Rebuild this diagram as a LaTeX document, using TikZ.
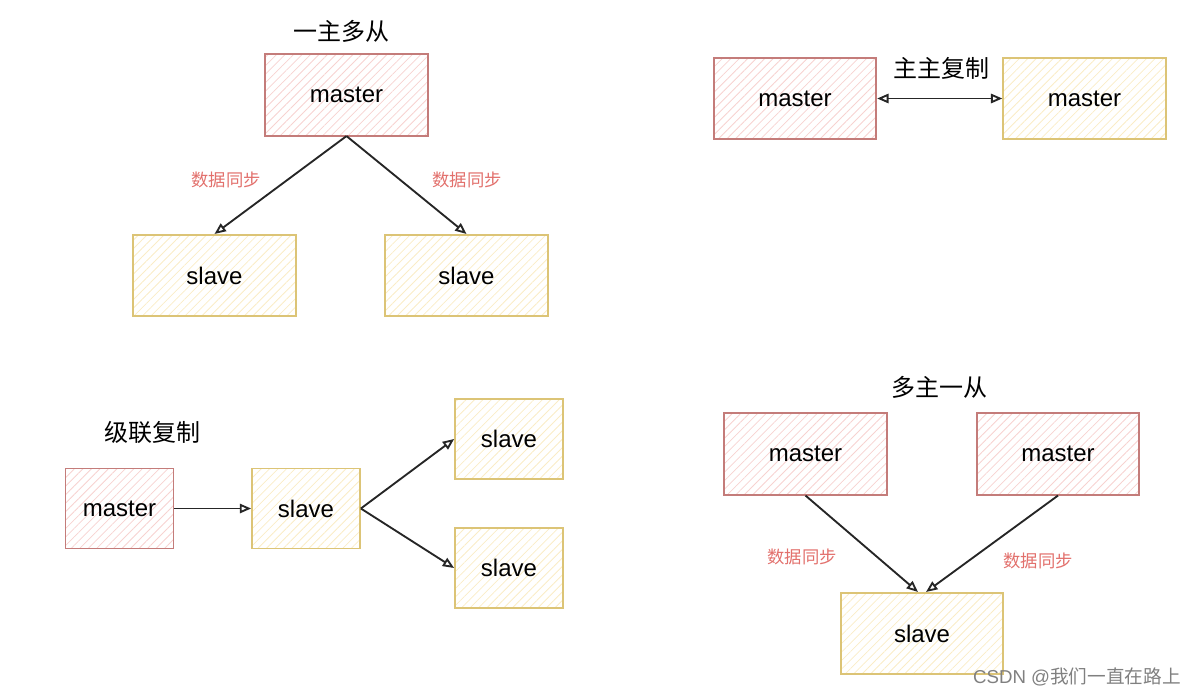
\documentclass[tikz,border=0pt]{standalone}
\usepackage{fontspec}
\setmainfont{Liberation Sans}
\newfontfamily\cjk{Noto Sans CJK SC}
\usetikzlibrary{arrows.meta,patterns.meta}

\definecolor{redline}{RGB}{196,124,122}
\definecolor{redhatch}{RGB}{247,210,208}
\definecolor{yelline}{RGB}{220,196,118}
\definecolor{yelhatch}{RGB}{250,236,198}
\definecolor{synctext}{RGB}{226,112,108}

\tikzset{every picture/.style={line width=0.75pt}}
\tikzset{
  mbox/.style={draw=redline, line width=1.3pt, pattern={Lines[angle=45,distance=4.5pt,line width=0.6pt]}, pattern color=redhatch,
    minimum width=122pt, minimum height=61pt, inner sep=0pt, font=\fontsize{18}{21}\selectfont},
  sbox/.style={mbox, draw=yelline, pattern color=yelhatch},
  narrow/.style={minimum width=81pt, minimum height=60pt},
  link/.style={draw=black!85, line width=1.4pt, -{Triangle[open,length=8.5pt,width=7pt]}},
  sync/.style={text=synctext, font=\cjk\fontsize{13}{15}\selectfont},
  title/.style={font=\cjk\fontsize{18}{21}\selectfont}
}

\begin{document}
\begin{tikzpicture}[x=0.75pt,y=0.75pt,yscale=-1,xscale=1]
\path[use as bounding box] (0,0) rectangle (1198,696);

%one master, many slaves
\node[title] (t1) at (341,31) {一主多从};
\node[mbox] (m1) at (346.5,95) {master};
\node[sbox] (s1) at (214.5,275.5) {slave};
\node[sbox] (s2) at (466.5,275.5) {slave};
\draw[link] (m1.south) -- (s1.north);
\draw[link] (m1.south) -- (s2.north);
\node[sync] (l1) at (226,180) {数据同步};
\node[sync] (l2) at (467,180) {数据同步};

%master-master
\node[title] (t2) at (941,68) {主主复制};
\node[mbox] (mm1) at (795,98.5) {master};
\node[sbox] (mm2) at (1084.5,98.5) {master};
\draw[link, {Triangle[open,length=8.5pt,width=7pt]}-{Triangle[open,length=8.5pt,width=7pt]}] (mm1.east) -- (mm2.west);

%cascade
\node[title] (t3) at (152,432) {级联复制};
\node[mbox, narrow] (cm) at (119.5,508.5) {master};
\node[sbox, narrow] (cs) at (306,508.5) {slave};
\node[sbox, narrow] (ct) at (509,439) {slave};
\node[sbox, narrow] (cb) at (509,568) {slave};
\draw[link] (cm.east) -- (cs.west);
\draw[link] (cs.east) -- (ct.west);
\draw[link] (cs.east) -- (cb.west);

%many masters, one slave
\node[title] (t4) at (939,387) {多主一从};
\node[mbox] (pm1) at (805.5,454) {master};
\node[mbox] (pm2) at (1058,454) {master};
\node[sbox] (ps) at (922,633.5) {slave};
\draw[link] (pm1.south) -- ([xshift=-3pt]ps.north);
\draw[link] (pm2.south) -- ([xshift=3pt]ps.north);
\node[sync] (l3) at (802,557) {数据同步};
\node[sync] (l4) at (1038,561) {数据同步};

% Text Node
\node[text=black!50, font=\fontsize{14}{16}\selectfont] (wm) at (1077,677) {CSDN @{\cjk 我们一直在路上}};

\end{tikzpicture}
\end{document}
